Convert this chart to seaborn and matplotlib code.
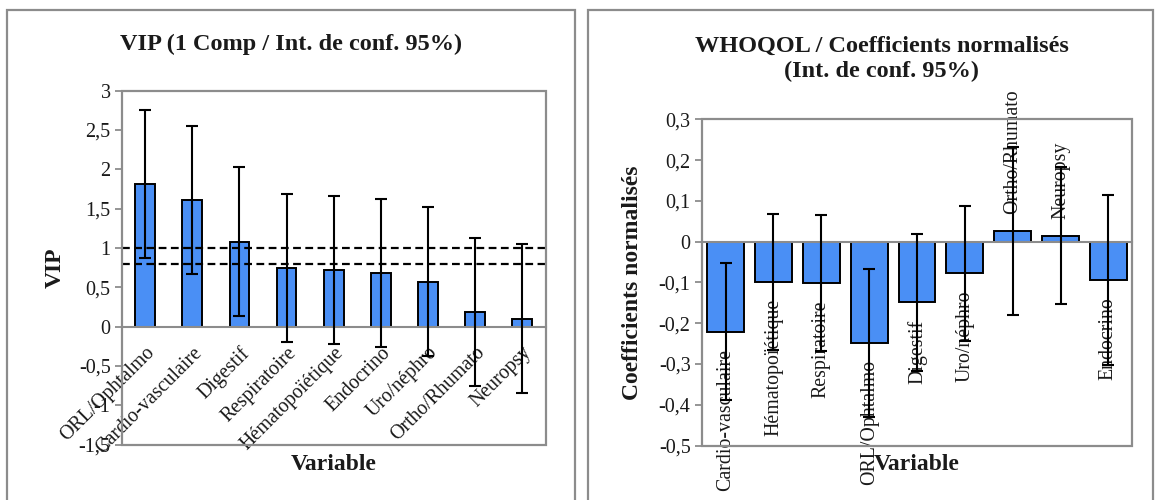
import pandas as pd
import seaborn as sns
import matplotlib.pyplot as plt
from matplotlib.patches import Rectangle
from matplotlib.ticker import FuncFormatter

# VIP chart (left)
vip_vars = ['ORL/Ophtalmo', 'Cardio-vasculaire', 'Digestif', 'Respiratoire', 'Hématopoïétique',
            'Endocrino', 'Uro/néphro', 'Ortho/Rhumato', 'Neuropsy']
vip_vals = [1.814, 1.61, 1.08, 0.747, 0.72, 0.68, 0.573, 0.185, 0.101]
vip_err = [0.94, 0.94, 0.945, 0.945, 0.94, 0.945, 0.945, 0.94, 0.945]
vip_thresholds = [1.0, 0.8]

# WHOQOL normalized coefficients (right)
coef_vars = ['Cardio-vasculaire', 'Hématopoïétique', 'Respiratoire', 'ORL/Ophtalmo', 'Digestif',
             'Uro/néphro', 'Ortho/Rhumato', 'Neuropsy', 'Endocrino']
coef_vals = [-0.221, -0.0995, -0.102, -0.249, -0.149, -0.078, 0.026, 0.0147, -0.094]
coef_err = [0.168, 0.1665, 0.167, 0.182, 0.168, 0.165, 0.205, 0.168, 0.208]

BLUE = '#4a8ff5'
GRAY = '#8c8c8c'
TXT = '#1a1a1a'
SERIF = ['Liberation Serif', 'DejaVu Serif']
FS_TICK = 14.5
FS_CAT = 14.3
FS_BOLD = 17

sns.set_theme(style='white')
plt.rcParams['font.family'] = SERIF
plt.rcParams['axes.unicode_minus'] = False

comma = FuncFormatter(lambda v, p: ('%g' % round(v, 2)).replace('.', ','))

fig = plt.figure(figsize=(11.55, 5), dpi=100)

# panel borders
for x0, x1 in [(7, 575), (588, 1153)]:
    fig.patches.append(Rectangle((x0 / 1155, -0.01), (x1 - x0) / 1155, 1 - 10 / 500 + 0.01,
                                 transform=fig.transFigure, fill=False, ec=GRAY, lw=1.6))


def style_axes(ax):
    for s in ['top', 'right', 'left']:
        ax.spines[s].set_visible(False)
    ax.spines['bottom'].set_position(('data', 0))
    ax.spines['bottom'].set_color(GRAY)
    ax.spines['bottom'].set_linewidth(1.5)
    ax.add_patch(Rectangle((0, 0), 1, 1, transform=ax.transAxes, fill=False,
                           ec=GRAY, lw=1.6, clip_on=False, zorder=5))
    ax.tick_params(axis='y', left=True, length=5, width=1.3, color=GRAY,
                   labelsize=FS_TICK, labelcolor=TXT, pad=3)
    ax.tick_params(axis='x', bottom=False, length=0)
    ax.yaxis.set_major_formatter(comma)
    ax.grid(False)


# ---- left: VIP
ax1 = fig.add_axes([121.7 / 1155, 1 - 444.5 / 500, 424 / 1155, 353.8 / 500])
df1 = pd.DataFrame({'Variable': vip_vars, 'VIP': vip_vals})
sns.barplot(data=df1, x='Variable', y='VIP', order=vip_vars, color=BLUE, width=0.42,
            edgecolor='black', linewidth=1.4, saturation=1, ax=ax1, zorder=2)
ax1.errorbar(range(len(vip_vars)), vip_vals, yerr=vip_err, fmt='none', ecolor='black',
             elinewidth=1.5, capsize=4, capthick=1.5, zorder=4)
for t in vip_thresholds:
    ax1.axhline(t, color='black', ls=(0, (3.5, 2)), lw=1.6, zorder=3)
ax1.set_xlim(-0.5, len(vip_vars) - 0.5)
ax1.set_ylim(-1.5, 3)
ax1.set_yticks([3, 2.5, 2, 1.5, 1, 0.5, 0, -0.5, -1, -1.5])
style_axes(ax1)
ax1.set_xticks(range(len(vip_vars)))
ax1.set_xticklabels(vip_vars, rotation=45, ha='right', rotation_mode='anchor',
                    fontsize=FS_CAT, color=TXT)
ax1.tick_params(axis='x', pad=12)
ax1.set_xlabel('Variable', fontsize=FS_BOLD, fontweight='bold', color=TXT)
ax1.xaxis.set_label_coords(0.5, (444.5 - 465) / 353.8)
ax1.xaxis.label.set_va('center')
ax1.set_ylabel('VIP', fontsize=FS_BOLD, fontweight='bold', color=TXT)
ax1.yaxis.set_label_coords((55 - 121.7) / 424, 0.5)
ax1.yaxis.label.set_va('center')
fig.text(291 / 1155, 1 - 44 / 500, 'VIP (1 Comp / Int. de conf. 95%)', ha='center', va='center',
         fontsize=17.5, fontweight='bold', color=TXT)

# ---- right: WHOQOL
ax2 = fig.add_axes([701.7 / 1155, 1 - 445.5 / 500, 430.6 / 1155, 326.2 / 500])
df2 = pd.DataFrame({'Variable': coef_vars, 'Coef': coef_vals})
sns.barplot(data=df2, x='Variable', y='Coef', order=coef_vars, color=BLUE, width=0.77,
            edgecolor='black', linewidth=1.4, saturation=1, ax=ax2, zorder=2)
ax2.errorbar(range(len(coef_vars)), coef_vals, yerr=coef_err, fmt='none', ecolor='black',
             elinewidth=1.5, capsize=4, capthick=1.5, zorder=4)
ax2.set_xlim(-0.5, len(coef_vars) - 0.5)
ax2.set_ylim(-0.5, 0.3)
ax2.set_yticks([0.3, 0.2, 0.1, 0, -0.1, -0.2, -0.3, -0.4, -0.5])
style_axes(ax2)
ax2.set_xticks(range(len(coef_vars)))
ax2.set_xticklabels([])
off = 17 * 72 / 100
for i, (name, v) in enumerate(zip(coef_vars, coef_vals)):
    ax2.annotate(name, (i, v), xytext=(0, off if v > 0 else -off), textcoords='offset points',
                 rotation=90, ha='center', va='bottom' if v > 0 else 'top',
                 fontsize=FS_CAT, color=TXT, zorder=3, annotation_clip=False)
ax2.set_xlabel('Variable', fontsize=FS_BOLD, fontweight='bold', color=TXT)
ax2.xaxis.set_label_coords(0.5, (445.5 - 465) / 326.2)
ax2.xaxis.label.set_va('center')
ax2.set_ylabel('Coefficients normalisés', fontsize=FS_BOLD, fontweight='bold', color=TXT)
ax2.yaxis.set_label_coords((633 - 701.7) / 430.6, 0.5)
ax2.yaxis.label.set_va('center')
fig.text(882 / 1155, 1 - 59 / 500, 'WHOQOL / Coefficients normalisés\n(Int. de conf. 95%)',
         ha='center', va='center', fontsize=17.5, fontweight='bold', color=TXT, linespacing=1.3)

fig.savefig('out.png', dpi=100, facecolor='white')
